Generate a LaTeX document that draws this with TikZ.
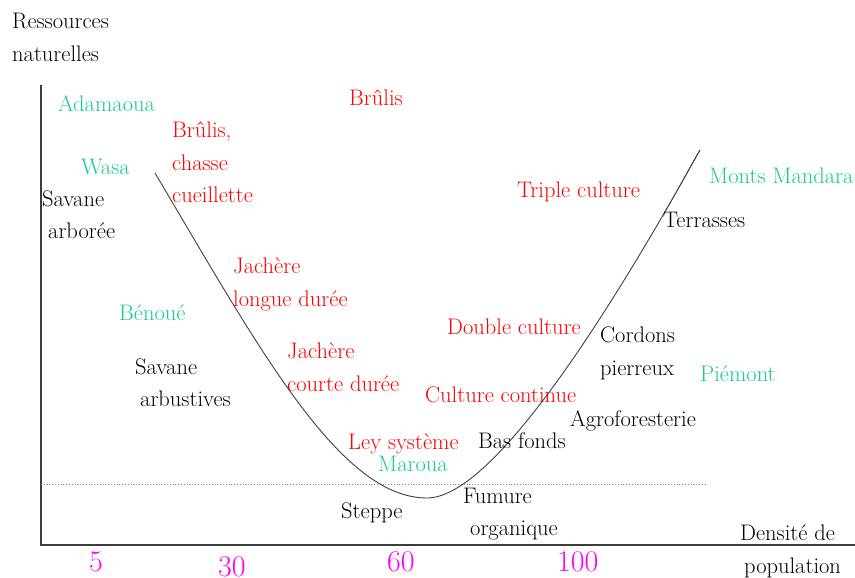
\documentclass[tikz,border=0pt]{standalone}
\usepackage{fontspec}
\definecolor{vert}{RGB}{25,200,150}
\definecolor{rouge}{RGB}{255,0,0}
\definecolor{magen}{RGB}{255,0,255}
\definecolor{axe}{RGB}{60,60,60}
\begin{document}
\begin{tikzpicture}[x=1pt,y=-1pt,
  lbl/.style={anchor=base west,inner sep=0pt,font=\rmfamily\fontsize{22.5}{26}\selectfont},
  blk/.style={lbl,text=black},
  grn/.style={lbl,text=vert},
  red/.style={lbl,text=rouge},
  num/.style={anchor=base west,inner sep=0pt,text=magen,font=\rmfamily\fontsize{30}{34}\selectfont},
  axis/.style={draw=axe,line width=1.1pt},
  curve/.style={draw=black!75,line width=0.9pt}]
\useasboundingbox (0,0) rectangle (855,578);
% axes
\coordinate (o) at (41,545);
\coordinate (ytop) at (41,85);
\coordinate (xend) at (855,545);
\draw[axis] (ytop) -- (o) -- (xend);
\coordinate (d1) at (41,484);
\coordinate (d2) at (706,484);
\draw[gray,dotted,line width=0.8pt] (d1) -- (d2);
% curve
\coordinate (c0) at (155,173);
\coordinate (cmin) at (427,498);
\coordinate (c1) at (700,150);
\coordinate (c2) at (666,210);
\draw[curve] (c0) .. controls (260,350) and (340,498) .. (cmin)
  .. controls (490,498) and (600,330) .. (c1);
\draw[curve,line width=0.6pt] (c2) .. controls (677,192) and (689,168) .. (c1);
% labels
\node[blk] (r1) at (12,29) {Ressources};
\node[blk] (r2) at (12,62) {naturelles};
\node[grn] (ada) at (58,112) {Adamaoua};
\node[red] (bru) at (349,106) {Brûlis};
\node[red] (b1) at (172,138) {Brûlis,};
\node[red] (b2) at (172,170) {chasse};
\node[red] (b3) at (172,202) {cueillette};
\node[grn] (wasa) at (81,174) {Wasa};
\node[blk] (sa1) at (42,206) {Savane};
\node[blk] (sa2) at (48,238) {arborée};
\node[red] (jl1) at (233,273) {Jachère};
\node[red] (jl2) at (233,306) {longue durée};
\node[grn] (ben) at (119,320) {Bénoué};
\node[blk] (sb1) at (135,374) {Savane};
\node[blk] (sb2) at (140,406) {arbustives};
\node[red] (jc1) at (287,358) {Jachère};
\node[red] (jc2) at (287,391) {courte durée};
\node[red] (tri) at (517,197) {Triple culture};
\node[grn] (mm) at (709,183) {Monts Mandara};
\node[blk] (ter) at (663,227) {Terrasses};
\node[red] (dbl) at (447,334) {Double culture};
\node[blk] (co1) at (600,342) {Cordons};
\node[blk] (co2) at (600,375) {pierreux};
\node[grn] (pie) at (700,381) {Piémont};
\node[red] (cc) at (425,402) {Culture continue};
\node[blk] (agr) at (570,426) {Agroforesterie};
\node[red] (ley) at (348,449) {Ley système};
\node[blk] (bas) at (478,448) {Bas fonds};
\node[grn] (mar) at (378,471) {Maroua};
\node[blk] (ste) at (341,518) {Steppe};
\node[blk] (fu1) at (463,503) {Fumure};
\node[blk] (fu2) at (470,535) {organique};
\node[blk] (de1) at (740,540) {Densité de};
\node[blk] (de2) at (744,573) {population};
\node[num] (n5) at (89,571) {5};
\node[num] (n30) at (218,576) {30};
\node[num] (n60) at (387,571) {60};
\node[num] (n100) at (557,571) {100};
\end{tikzpicture}
\end{document}
